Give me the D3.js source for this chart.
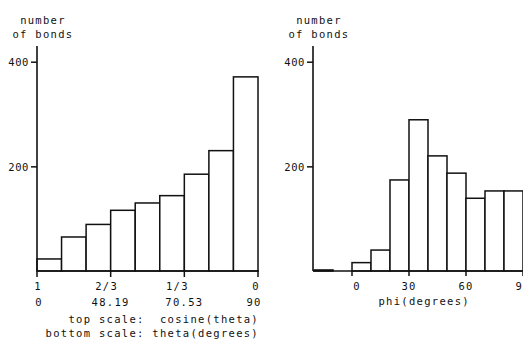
<!DOCTYPE html>
<html>
<head>
<meta charset="utf-8">
<script src="https://cdn.jsdelivr.net/npm/d3@7"></script>
<style>
  body { margin: 0; background: #fff; }
  svg text { font-family: "DejaVu Sans Mono", monospace; font-size: 10.5px; letter-spacing: 1.3px; fill: #111; }
</style>
</head>
<body>
<div id="chart"></div>
<script>
// left panel: bins of cosine(theta), from 1 down to 0
const cosEdges = [1, 8/9, 7/9, 6/9, 5/9, 4/9, 3/9, 2/9, 1/9, 0];
const cosCounts = [23, 65, 89, 116, 130, 144, 185, 230, 371];
const cosTicks = [1, 2/3, 1/3, 0];
const cosTickTop = ["1", "2/3", "1/3", "0"];
const cosTickBottom = ["0", "48.19", "70.53", "90"];

// right panel: bins of phi, 10 degrees wide
const phiEdges = [-20, -10, 0, 10, 20, 30, 40, 50, 60, 70, 80, 90];
const phiCounts = [2, 0, 16, 40, 174, 289, 220, 187, 139, 153, 153];
const phiTicks = [0, 30, 60, 90];

const yTicks = [200, 400];

const width = 523, height = 341;
const svg = d3.select("#chart").append("svg")
  .attr("width", width).attr("height", height);

const y = d3.scaleLinear().domain([0, 430]).range([271, 46]);
const xL = d3.scaleLinear().domain([1, 0]).range([37, 258]);
const xR = d3.scaleLinear().domain([-20, 100]).range([314, 542]);

function panel(x, edges, counts, axisX, x1) {
  const g = svg.append("g");
  // bars
  g.selectAll("rect").data(counts).join("rect")
    .attr("x", (d, i) => Math.min(x(edges[i]), x(edges[i + 1])))
    .attr("width", (d, i) => Math.abs(x(edges[i + 1]) - x(edges[i])))
    .attr("y", d => y(d))
    .attr("height", d => y(0) - y(d))
    .attr("fill", "#fff")
    .attr("stroke", "#111")
    .attr("stroke-width", 1.5);

  // y axis
  const ya = g.append("g").attr("transform", `translate(${axisX},0)`)
    .call(d3.axisLeft(y).tickValues(yTicks).tickSize(6).tickPadding(2).tickFormat(d3.format("d")));
  ya.select(".domain").remove();
  ya.selectAll("line").attr("stroke", "#111").attr("stroke-width", 1.5);
  ya.selectAll("text").attr("font-family", null).attr("font-size", null)
    .attr("dy", "0.35em").style("letter-spacing", "0.6px");
  g.append("line")
    .attr("x1", axisX).attr("x2", axisX)
    .attr("y1", y(430)).attr("y2", y(0))
    .attr("stroke", "#111").attr("stroke-width", 1.6);

  // baseline
  g.append("line")
    .attr("x1", axisX).attr("x2", x1)
    .attr("y1", y(0)).attr("y2", y(0))
    .attr("stroke", "#111").attr("stroke-width", 1.6);

  // y title
  g.append("text").attr("x", axisX + 6).attr("y", 24).attr("text-anchor", "middle").text("number");
  g.append("text").attr("x", axisX + 6).attr("y", 38).attr("text-anchor", "middle").text("of bonds");
  return g;
}

// left panel
const gl = panel(xL, cosEdges, cosCounts, 37, 259);
gl.selectAll(".xt").data(cosTicks).join("line")
  .attr("x1", d => xL(d)).attr("x2", d => xL(d))
  .attr("y1", y(0)).attr("y2", y(0) + 6)
  .attr("stroke", "#111").attr("stroke-width", 1.5);
gl.selectAll(".lt").data(cosTicks).join("text")
  .attr("x", (d, i) => xL(d) - [ -1, 4, 7, 2 ][i])
  .attr("y", 290).attr("text-anchor", "middle")
  .text((d, i) => cosTickTop[i]);
gl.selectAll(".lb").data(cosTicks).join("text")
  .attr("x", (d, i) => xL(d) + [ 2, 0, 0, -4 ][i])
  .attr("y", 306).attr("text-anchor", "middle")
  .text((d, i) => cosTickBottom[i]);
gl.append("text").attr("x", 259).attr("y", 323).attr("text-anchor", "end")
  .attr("xml:space", "preserve").text("top scale:  cosine(theta)");
gl.append("text").attr("x", 259).attr("y", 337).attr("text-anchor", "end")
  .attr("xml:space", "preserve").text("bottom scale: theta(degrees)");

// right panel
const gr = panel(xR, phiEdges, phiCounts, 313, 542);
gr.selectAll(".xt").data(phiTicks).join("line")
  .attr("x1", d => xR(d)).attr("x2", d => xR(d))
  .attr("y1", y(0)).attr("y2", y(0) + 5)
  .attr("stroke", "#111").attr("stroke-width", 1.5);
gr.selectAll(".lt").data(phiTicks).join("text")
  .attr("x", (d, i) => xR(d) + (i === 0 ? 5 : 0))
  .attr("y", 290).attr("text-anchor", "middle")
  .text(d => d);
gr.append("text").attr("x", xR(38)).attr("y", 305).attr("text-anchor", "middle")
  .text("phi(degrees)");
</script>
</body>
</html>
